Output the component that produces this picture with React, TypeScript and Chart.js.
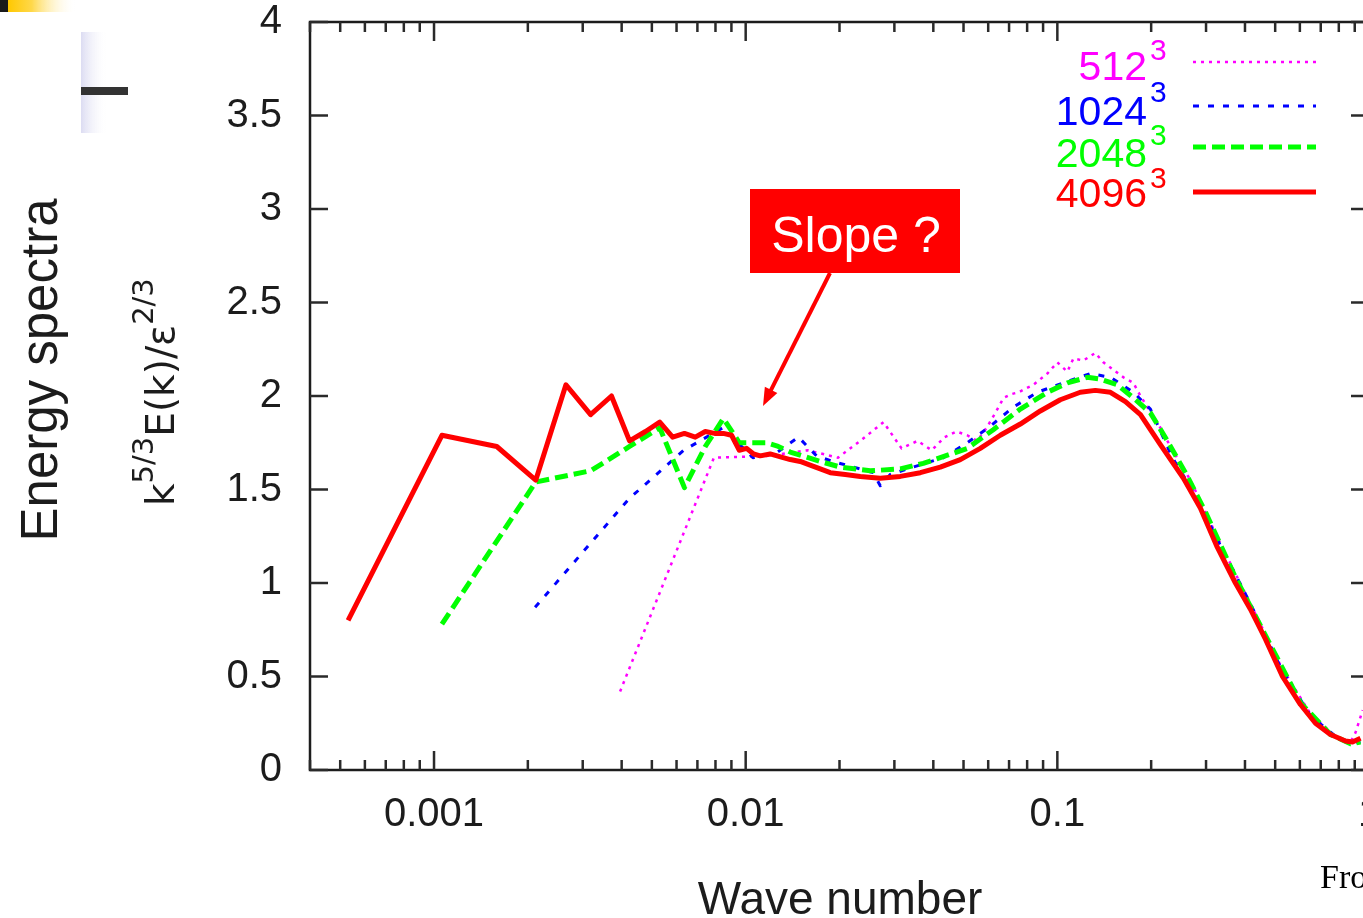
import React, { useEffect, useRef } from "react";
import { Chart, registerables } from "chart.js";

Chart.register(...registerables);

// ---------- data ----------
const xTickValues = [0.001, 0.01, 0.1, 1];
const xTickLabels = ["0.001", "0.01", "0.1", "1"];
const yTickValues = [0, 0.5, 1, 1.5, 2, 2.5, 3, 3.5, 4];
const yTickLabels = ["0", "0.5", "1", "1.5", "2", "2.5", "3", "3.5", "4"];

const legendLabels = ["512", "1024", "2048", "4096"];
const legendExponent = "3";

const xTitle = "Wave number";
const sideTitle = "Energy spectra";
const yTitleParts = [
  { text: "k", sup: false },
  { text: "5/3", sup: true },
  { text: "E(k)/\u03b5", sup: false },
  { text: "2/3", sup: true },
];
const annotationText = "Slope ?";
const footerText = "Fro";

// 4096^3
const kRed = [
  0.00053, 0.00106, 0.00159, 0.00212, 0.00265, 0.00318, 0.00371, 0.00424, 0.00477, 0.0053,
  0.00583, 0.00636, 0.00689, 0.00742, 0.00795, 0.00848, 0.00901, 0.00954, 0.01007, 0.0106,
  0.01113, 0.01198, 0.01319, 0.0139, 0.01496, 0.0161, 0.01735, 0.01868, 0.02087, 0.02332,
  0.02703, 0.03133, 0.03633, 0.04211, 0.04883, 0.0566, 0.06561, 0.07606, 0.08817, 0.1022,
  0.1185, 0.1324, 0.148, 0.1654, 0.1848, 0.1989, 0.2141, 0.2539, 0.2879, 0.3262,
  0.3727, 0.4164, 0.4653, 0.5277, 0.6027, 0.6734, 0.7522, 0.8406, 0.8851, 0.9391,
];
const eRed = [
  0.8, 1.79, 1.73, 1.55, 2.06, 1.9, 2.0, 1.76, 1.81, 1.86,
  1.78, 1.8, 1.78, 1.81, 1.8, 1.8, 1.79, 1.71, 1.72, 1.69,
  1.68, 1.69, 1.67, 1.66, 1.65, 1.63, 1.61, 1.59, 1.58, 1.57,
  1.56, 1.57, 1.59, 1.62, 1.66, 1.72, 1.79, 1.85, 1.92, 1.98,
  2.02, 2.03, 2.02, 1.97, 1.9, 1.82, 1.74, 1.56, 1.4, 1.19,
  1.0, 0.86, 0.7, 0.5, 0.35, 0.25, 0.19, 0.155, 0.15, 0.17,
];

// 2048^3
const kGreen = [
  0.00106, 0.00212, 0.00318, 0.00424, 0.0053, 0.00636, 0.00742, 0.00848, 0.00954, 0.0106,
  0.01166, 0.01272, 0.0139, 0.01735, 0.02011, 0.0251, 0.03133, 0.03714, 0.04211, 0.05141,
  0.0623, 0.07606, 0.09288, 0.1077, 0.1248, 0.1374, 0.1558, 0.1754, 0.1989, 0.2255,
  0.2615, 0.2987, 0.3727, 0.4653, 0.6027, 0.7522, 0.8723, 0.9391,
];
const eGreen = [
  0.78, 1.54, 1.6, 1.73, 1.83, 1.51, 1.73, 1.88, 1.75, 1.75,
  1.75, 1.73, 1.7, 1.65, 1.62, 1.6, 1.61, 1.64, 1.67, 1.72,
  1.82, 1.93, 2.02, 2.07, 2.1, 2.09, 2.06, 1.99, 1.91, 1.76,
  1.57, 1.38, 1.03, 0.72, 0.36, 0.19, 0.14, 0.15,
];

// 1024^3
const kBlue = [
  0.00211, 0.00422, 0.00633, 0.00844, 0.01055, 0.01266, 0.01477, 0.01688, 0.01899, 0.0211,
  0.02332, 0.02566, 0.02703, 0.0291, 0.03449, 0.04305, 0.05141, 0.06003, 0.07222, 0.08626,
  0.1045, 0.1276, 0.148, 0.1754, 0.1989, 0.234, 0.2773, 0.3336, 0.4164, 0.5198,
  0.6489, 0.7808, 0.8723, 0.9391,
];
const eBlue = [
  0.87, 1.45, 1.71, 1.83, 1.67, 1.7, 1.78, 1.68, 1.65, 1.63,
  1.61, 1.59, 1.52, 1.58, 1.62, 1.67, 1.75, 1.83, 1.94, 2.02,
  2.07, 2.12, 2.1, 2.02, 1.93, 1.67, 1.47, 1.2, 0.89, 0.55,
  0.29, 0.18, 0.14, 0.15,
];

// 512^3
const kMagenta = [
  0.003954, 0.007908, 0.01186, 0.01582, 0.01977, 0.02372, 0.02768, 0.03163, 0.03559, 0.03954,
  0.04349, 0.04745, 0.0514, 0.05536, 0.05931, 0.06326, 0.06722, 0.07117, 0.07513, 0.07908,
  0.08375, 0.09288, 0.1, 0.1077, 0.1126, 0.1212, 0.1324, 0.1405, 0.1513, 0.1629,
  0.1754, 0.182, 0.1945, 0.2141, 0.2306, 0.2673, 0.3336, 0.4164, 0.5198, 0.6489,
  0.7808, 0.8723, 0.905, 0.9545,
];
const eMagenta = [
  0.42, 1.67, 1.68, 1.71, 1.67, 1.77, 1.86, 1.72, 1.76, 1.71,
  1.78, 1.81, 1.79, 1.76, 1.83, 1.91, 1.99, 2.01, 2.02, 2.04,
  2.06, 2.12, 2.18, 2.13, 2.2, 2.19, 2.23, 2.18, 2.14, 2.1,
  2.07, 2.02, 1.94, 1.83, 1.73, 1.55, 1.21, 0.89, 0.56, 0.3,
  0.18, 0.15, 0.2, 0.32,
];

// ---------- styles ----------
const INK = "#1c1c1c";
const SANS = "'Liberation Sans', Arial, sans-serif";
const styles = {
  "512": { color: "#ff00ff", width: 2.5, dash: [3, 5] },
  "1024": { color: "#0000ff", width: 3, dash: [6, 9] },
  "2048": { color: "#00ff00", width: 5, dash: [13, 6] },
  "4096": { color: "#ff0000", width: 5, dash: [] as number[] },
};

const toXY = (ks: number[], es: number[]) => ks.map((k, i) => ({ x: k, y: es[i] }));

function line(ctx: CanvasRenderingContext2D, x1: number, y1: number, x2: number, y2: number) {
  ctx.beginPath();
  ctx.moveTo(x1, y1);
  ctx.lineTo(x2, y2);
  ctx.stroke();
}

const decorPlugin = {
  id: "decor",
  afterDraw(chart: any) {
    const ctx: CanvasRenderingContext2D = chart.ctx;
    const { left, right, top, bottom } = chart.chartArea;
    const xs = chart.scales.x;
    const ys = chart.scales.y;
    ctx.save();

    // frame
    ctx.strokeStyle = INK;
    ctx.lineWidth = 2.5;
    ctx.strokeRect(left, top, right - left, bottom - top);

    // x ticks (major + minor) on bottom and top, pointing inward
    ctx.lineWidth = 2.5;
    ctx.strokeStyle = "#2a2a2a";
    for (let d = -4; d <= 0; d++) {
      for (let m = 1; m <= 9; m++) {
        const v = m * Math.pow(10, d);
        if (v < xs.min * 0.999 || v > xs.max * 1.001) continue;
        const px = xs.getPixelForValue(v);
        const len = m === 1 ? 19 : 10;
        line(ctx, px, bottom, px, bottom - len);
        line(ctx, px, top, px, top + len);
      }
    }
    // y ticks on left and right
    for (const v of yTickValues) {
      const py = ys.getPixelForValue(v);
      line(ctx, left, py, left + 18, py);
      line(ctx, right, py, right - 18, py);
    }

    // top-left slide decorations
    ctx.fillStyle = "#1a1a1a";
    ctx.fillRect(0, 0, 8, 12);
    const g1 = ctx.createLinearGradient(8, 0, 76, 0);
    g1.addColorStop(0, "#ffc800");
    g1.addColorStop(0.35, "#ffd84a");
    g1.addColorStop(1, "rgba(255,255,255,0)");
    ctx.fillStyle = g1;
    ctx.fillRect(8, 0, 68, 12);
    const g2 = ctx.createLinearGradient(81, 0, 108, 0);
    g2.addColorStop(0, "#dcdcf2");
    g2.addColorStop(1, "rgba(255,255,255,0)");
    ctx.fillStyle = g2;
    ctx.fillRect(81, 32, 27, 101);
    ctx.fillStyle = "#333333";
    ctx.fillRect(81, 87, 47, 8);

    // x title
    ctx.fillStyle = INK;
    ctx.font = `46px ${SANS}`;
    ctx.textAlign = "center";
    ctx.textBaseline = "alphabetic";
    ctx.fillText(xTitle, 840, 914);

    // side title
    ctx.save();
    ctx.translate(57, 370);
    ctx.rotate(-Math.PI / 2);
    ctx.font = `51px ${SANS}`;
    ctx.textAlign = "center";
    ctx.fillText(sideTitle, 0, 0);
    ctx.restore();

    // y title with superscripts
    ctx.save();
    ctx.translate(174, 506);
    ctx.rotate(-Math.PI / 2);
    ctx.textAlign = "left";
    let tx = 0;
    for (const p of yTitleParts) {
      ctx.font = p.sup ? "29px 'DejaVu Sans'" : "39px 'DejaVu Sans'";
      ctx.fillText(p.text, tx, p.sup ? -21 : 0);
      tx += ctx.measureText(p.text).width;
    }
    ctx.restore();

    // legend
    const rows = [
      { base: 80, supBase: 60, lineY: 62 },
      { base: 125, supBase: 102, lineY: 106 },
      { base: 167, supBase: 145, lineY: 147 },
      { base: 207, supBase: 188, lineY: 192 },
    ];
    legendLabels.forEach((lab, i) => {
      const st = (styles as any)[lab];
      const r = rows[i];
      ctx.fillStyle = st.color;
      ctx.textAlign = "right";
      ctx.font = `41px ${SANS}`;
      ctx.fillText(lab, 1147, r.base);
      ctx.textAlign = "left";
      ctx.font = `30px ${SANS}`;
      ctx.fillText(legendExponent, 1150, r.supBase);
      ctx.strokeStyle = st.color;
      ctx.lineWidth = st.width;
      ctx.setLineDash(st.dash);
      line(ctx, 1193, r.lineY, 1316, r.lineY);
      ctx.setLineDash([]);
    });

    // annotation box + arrow
    ctx.fillStyle = "#ff0000";
    ctx.fillRect(750, 189, 210, 84);
    ctx.fillStyle = "#ffffff";
    ctx.font = `50px ${SANS}`;
    ctx.textAlign = "center";
    ctx.fillText(annotationText, 856, 252);
    const sx = 830, sy = 273, ex = 763, ey = 406;
    const L = Math.hypot(ex - sx, ey - sy);
    const ux = (ex - sx) / L, uy = (ey - sy) / L;
    const bx = ex - ux * 18, by = ey - uy * 18;
    ctx.strokeStyle = "#ff0000";
    ctx.lineWidth = 4;
    line(ctx, sx, sy, bx + ux * 2, by + uy * 2);
    ctx.fillStyle = "#ff0000";
    ctx.beginPath();
    ctx.moveTo(ex, ey);
    ctx.lineTo(bx - uy * 7, by + ux * 7);
    ctx.lineTo(bx + uy * 7, by - ux * 7);
    ctx.closePath();
    ctx.fill();

    // footer fragment
    ctx.fillStyle = "#000";
    ctx.font = "34px 'Liberation Serif', 'Times New Roman', serif";
    ctx.textAlign = "left";
    ctx.fillText(footerText, 1320, 888);

    ctx.restore();
  },
};

export default function App() {
  const ref = useRef<HTMLCanvasElement>(null);
  useEffect(() => {
    const canvas = ref.current;
    if (!canvas) return;
    const mk = (lab: string, ks: number[], es: number[]) => {
      const st = (styles as any)[lab];
      return {
        label: lab + "^3",
        data: toXY(ks, es),
        borderColor: st.color,
        backgroundColor: st.color,
        borderWidth: st.width,
        borderDash: st.dash,
        borderJoinStyle: "round" as const,
        pointRadius: 0,
        tension: 0,
        fill: false,
      };
    };
    const chart = new Chart(canvas, {
      type: "line",
      data: {
        datasets: [
          mk("4096", kRed, eRed),
          mk("2048", kGreen, eGreen),
          mk("1024", kBlue, eBlue),
          mk("512", kMagenta, eMagenta),
        ],
      },
      options: {
        responsive: false,
        animation: false,
        devicePixelRatio: 1,
        layout: { padding: { top: 22, right: 31, left: 0, bottom: 0 } },
        plugins: {
          legend: { display: false },
          tooltip: { enabled: false },
          title: { display: false },
        },
        scales: {
          x: {
            type: "logarithmic",
            min: 0.0004,
            max: 1,
            grid: { display: false, drawTicks: false },
            border: { display: false },
            afterBuildTicks: (s: any) => {
              s.ticks = xTickValues.map((v) => ({ value: v }));
            },
            afterFit: (s: any) => {
              s.height = 148;
              s.paddingLeft = 0;
              s.paddingRight = 0;
              s.paddingTop = 0;
              s.paddingBottom = 0;
            },
            ticks: {
              autoSkip: false,
              maxRotation: 0,
              padding: 25,
              color: INK,
              font: { family: SANS, size: 40, lineHeight: 1 },
              callback: (_v: any, i: number) => xTickLabels[i],
            },
          },
          y: {
            type: "linear",
            min: 0,
            max: 4,
            grid: { display: false, drawTicks: false },
            border: { display: false },
            afterBuildTicks: (s: any) => {
              s.ticks = yTickValues.map((v) => ({ value: v }));
            },
            afterFit: (s: any) => {
              s.width = 310;
              s.paddingLeft = 0;
              s.paddingRight = 0;
              s.paddingTop = 0;
              s.paddingBottom = 0;
            },
            ticks: {
              autoSkip: false,
              padding: 28,
              color: INK,
              font: { family: SANS, size: 40, lineHeight: 1 },
              callback: (_v: any, i: number) => yTickLabels[i],
            },
          },
        },
      },
      plugins: [decorPlugin],
    } as any);
    return () => chart.destroy();
  }, []);
  return (
    <div
      style={{
        position: "fixed",
        left: 0,
        top: 0,
        width: 1363,
        height: 918,
        overflow: "hidden",
        background: "#fff",
      }}
    >
      <canvas ref={ref} width={1400} height={918} style={{ display: "block", width: 1400, height: 918 }} />
    </div>
  );
}
